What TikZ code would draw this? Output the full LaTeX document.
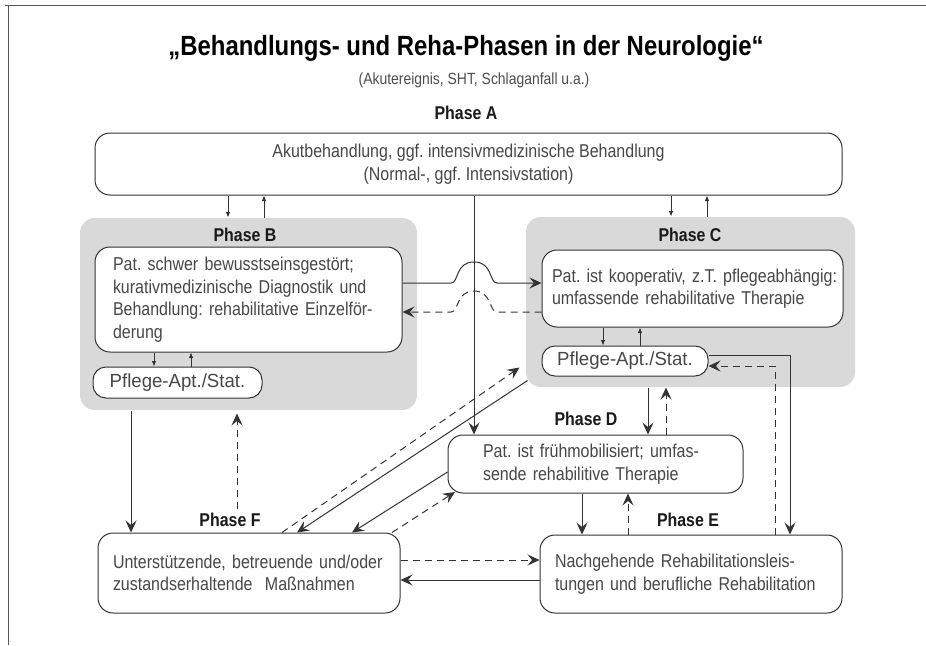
\documentclass[tikz,border=0pt]{standalone}
\usepackage{fontspec}
\setmainfont{Liberation Sans}[FakeStretch=0.86]
\newfontfamily\aptfont{Liberation Sans}[FakeStretch=0.98]
\usetikzlibrary{arrows.meta,positioning}

\begin{document}
\frenchspacing
\begin{tikzpicture}[x=1pt,y=-1pt,line width=1pt,draw=black!80,
		box/.style={draw=black!80,rounded corners=15pt,fill=white,text=black!72,inner ysep=0pt,
			font=\fontsize{18.6}{22.5}\selectfont},
		apt/.style={box,rounded corners=13pt,align=center,font=\aptfont\fontsize{19}{22}\selectfont},
		panel/.style={fill=black!15,rounded corners=15pt,inner sep=0pt},
		phase/.style={font=\fontsize{18.5}{20}\selectfont\bfseries,text=black!90},
		tiny/.style={-{Latex[length=5.5pt,width=4.5pt]},line width=0.8pt},
		big/.style={-{Stealth[length=12pt,width=11pt,inset=4.5pt]}},
		dsh/.style={big,dash pattern=on 7pt off 5pt}]
			\useasboundingbox (0,0) rectangle (926,645);
			\draw[black!65,line width=1pt] (5,5) -- (926,5) (8,5) -- (8,645);

			\node (T) at (466,48) {\fontsize{27.8}{30}\selectfont\bfseries „Behandlungs- und Reha-Phasen in der Neurologie“};
			\node (S) [text=black!70] at (474,80) {\fontsize{16.2}{18}\selectfont (Akutereignis, SHT, Schlaganfall u.a.)};
			\node (PA) [phase] at (466,113) {Phase A};

			\node (gB) [panel,minimum width=337pt,minimum height=192pt] at (248.5,314) {};
			\node (gC) [panel,minimum width=329pt,minimum height=170pt] at (690.5,302) {};

			\node (A) [box,align=center,minimum width=747pt,minimum height=62pt] at (468.5,164)
				{Akutbehandlung, ggf. intensivmedizinische Behandlung\\(Normal-, ggf. Intensivstation)};
			\node (PB) [phase] at (245,235) {Phase B};
			\node (PC) [phase] at (690,235) {Phase C};
			\node (B) [box,text width=271pt,inner xsep=18pt,align=left,minimum height=105pt] at (248.5,299.5)
				{Pat. schwer bewusstseinsgestört;\\kurativmedizinische Diagnostik und\\Behandlung: rehabilitative Einzelför-\\derung};
			\node (Bp) [apt,minimum width=169pt,minimum height=31pt] at (177.5,382.5) {Pflege-Apt./Stat.};
			\node (C) [box,text width=291pt,inner xsep=5pt,align=left,minimum height=77pt] at (692.5,288.5)
				{\hspace*{5pt}Pat. ist kooperativ, z.T. pflegeabhängig:\\\hspace*{5pt}umfassende rehabilitative Therapie};
			\node (Cp) [apt,minimum width=166pt,minimum height=30pt] at (625,361) {Pflege-Apt./Stat.};
			\node (PD) [phase] at (586,419) {Phase D};
			\node (D) [box,text width=225pt,inner xsep=35pt,align=left,minimum height=58pt] at (595.5,464)
				{Pat. ist frühmobilisiert; umfas-\\sende rehabilitive Therapie};
			\node (PE) [phase] at (688,520) {Phase E};
			\node (E) [box,text width=272pt,inner xsep=15pt,align=left,minimum height=78pt] at (691,574)
				{Nachgehende Rehabilitationsleis-\\tungen und berufliche Rehabilitation};
			\node (PF) [phase] at (230,520) {Phase F};
			\node (F) [box,text width=272pt,inner xsep=15pt,align=left,minimum height=80pt] at (249,573)
				{Unterstützende, betreuende und/oder\\zustandserhaltende\ \ Maßnahmen};

			\draw[tiny] (A.south -| 228,0) -- (gB.north -| 228,0);
			\draw[tiny] (gB.north -| 264,0) -- (A.south -| 264,0);
			\draw[tiny] (A.south -| 671,0) -- (gC.north -| 671,0);
			\draw[tiny] (gC.north -| 707,0) -- (A.south -| 707,0);
			\draw[tiny] (B.south -| 154,0) -- (Bp.north -| 154,0);
			\draw[tiny] (Bp.north -| 191,0) -- (B.south -| 191,0);
			\draw[tiny] (C.south -| 603,0) -- (Cp.north -| 603,0);
			\draw[tiny] (Cp.north -| 640,0) -- (C.south -| 640,0);

			\draw[big] (B.east |- 0,283) -- (451,283) .. controls (459,283) and (455,262) .. (474,262)
				.. controls (493,262) and (489,283) .. (497,283) -- (C.west |- 0,283);
			\draw[dsh] (C.west |- 0,312) -- (497,312) .. controls (489,312) and (492,291) .. (474,291)
				.. controls (456,291) and (459,312) .. (451,312) -- (B.east |- 0,312);
			\draw[big] (A.south -| 474,0) -- (D.north -| 474,0);

			\draw[big] (gC.south -| 648,0) -- (D.north -| 648,0);
			\draw[dsh] (D.north -| 666,0) -- (gC.south -| 666,0);
			\draw[big] (Cp.east |- 0,355) -- (790,355) -- (E.north -| 790,0);
			\draw[dsh] (E.north -| 775,0) -- (775,366) -- (Cp.east |- 0,366);
			\draw[big] (D.south -| 582,0) -- (E.north -| 582,0);
			\draw[dsh] (E.north -| 628,0) -- (D.south -| 628,0);

			\draw[big] (gB.south -| 131,0) -- (F.north -| 131,0);
			\draw[dsh] (PF.north -| 237,0) -- ([yshift=-3pt]gB.south -| 237,0);
			\draw[big] ([shift={(2,-7)}]gC.south west) -- (F.north -| 297,0);
			\draw[dsh] (F.north -| 282,0) -- ([shift={(-6,-20)}]gC.south west);
			\draw[big] (D.west |- 0,472) -- (F.north -| 352,0);
			\draw[dsh] (F.north -| 392,0) -- (455,492);
			\draw[dsh] (F.east |- 0,560) -- (E.west |- 0,560);
			\draw[big] (E.west |- 0,580) -- (F.east |- 0,580);
\end{tikzpicture}
\end{document}
